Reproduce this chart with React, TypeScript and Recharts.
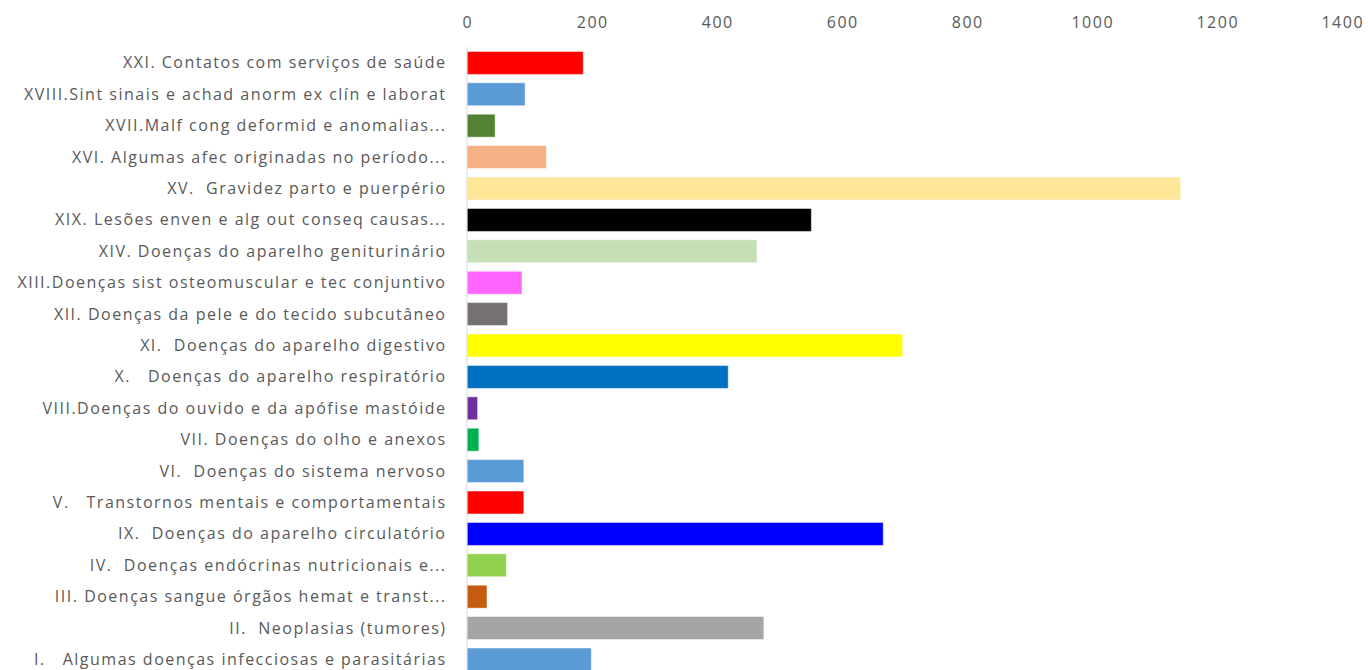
import { BarChart, Bar, XAxis, YAxis, Cell } from 'recharts'

// categories listed top to bottom as drawn
const categories = [
  'XXI. Contatos com serviços de saúde',
  'XVIII.Sint sinais e achad anorm ex clín e laborat',
  'XVII.Malf cong deformid e anomalias...',
  'XVI. Algumas afec originadas no período...',
  'XV.  Gravidez parto e puerpério',
  'XIX. Lesões enven e alg out conseq causas...',
  'XIV. Doenças do aparelho geniturinário',
  'XIII.Doenças sist osteomuscular e tec conjuntivo',
  'XII. Doenças da pele e do tecido subcutâneo',
  'XI.  Doenças do aparelho digestivo',
  'X.   Doenças do aparelho respiratório',
  'VIII.Doenças do ouvido e da apófise mastóide',
  'VII. Doenças do olho e anexos',
  'VI.  Doenças do sistema nervoso',
  'V.   Transtornos mentais e comportamentais',
  'IX.  Doenças do aparelho circulatório',
  'IV.  Doenças endócrinas nutricionais e...',
  'III. Doenças sangue órgãos hemat e transt...',
  'II.  Neoplasias (tumores)',
  'I.   Algumas doenças infecciosas e parasitárias',
]

const values = [186, 93, 45, 127, 1142, 551, 464, 88, 65, 697, 418, 17, 19, 91, 91, 666, 63, 32, 475, 199]

const colors = [
  '#FF0000', '#5B9BD5', '#548235', '#F4B183', '#FFE699',
  '#000000', '#C5E0B4', '#FF66FF', '#767171', '#FFFF00',
  '#0070C0', '#7030A0', '#00B050', '#5B9BD5', '#FF0000',
  '#0000FF', '#92D050', '#C55A11', '#A5A5A5', '#5B9BD5',
]

const xTicks = [0, 200, 400, 600, 800, 1000, 1200, 1400]

const data = categories.map((name, i) => ({ name, value: values[i] }))

const font = '"Open Sans", sans-serif'
const textColor = '#595959'

function XTick(props: any) {
  const { x, y, payload } = props
  return (
    <text
      x={x + 0.75}
      y={y - 19}
      textAnchor="middle"
      fill={textColor}
      fontSize={16}
      fontFamily={font}
      letterSpacing={1.5}
    >
      {payload.value}
    </text>
  )
}

function YTick(props: any) {
  const { x, y, payload } = props
  return (
    <text
      x={x + 1.5}
      y={y}
      dy="0.36em"
      textAnchor="end"
      fill={textColor}
      fontSize={16}
      fontFamily={font}
      letterSpacing={1.5}
      xmlSpace="preserve"
      style={{ whiteSpace: 'pre' }}
    >
      {payload.value}
    </text>
  )
}

export default function App() {
  return (
    <div
      style={{
        position: 'absolute',
        top: 0,
        left: 0,
        width: 1368,
        height: 670,
        overflow: 'hidden',
        background: '#fff',
      }}
    >
      <BarChart
        width={1368}
        height={675}
        data={data}
        layout="vertical"
        margin={{ top: 0, right: 26, left: 0, bottom: 0 }}
        barCategoryGap="14%"
      >
        <XAxis
          type="number"
          orientation="top"
          domain={[0, 1400]}
          ticks={xTicks}
          height={47}
          axisLine={false}
          tickLine={false}
          tickSize={0}
          tickMargin={0}
          tick={<XTick />}
          interval={0}
        />
        <YAxis
          type="category"
          dataKey="name"
          width={467}
          axisLine={{ stroke: '#D9D9D9' }}
          tickLine={false}
          tickSize={0}
          tickMargin={22}
          tick={<YTick />}
          interval={0}
        />
        <Bar dataKey="value" isAnimationActive={false} stroke="rgba(255,255,255,0.5)" strokeWidth={1}>
          {data.map((d, i) => (
            <Cell key={d.name} fill={colors[i]} />
          ))}
        </Bar>
      </BarChart>
    </div>
  )
}
